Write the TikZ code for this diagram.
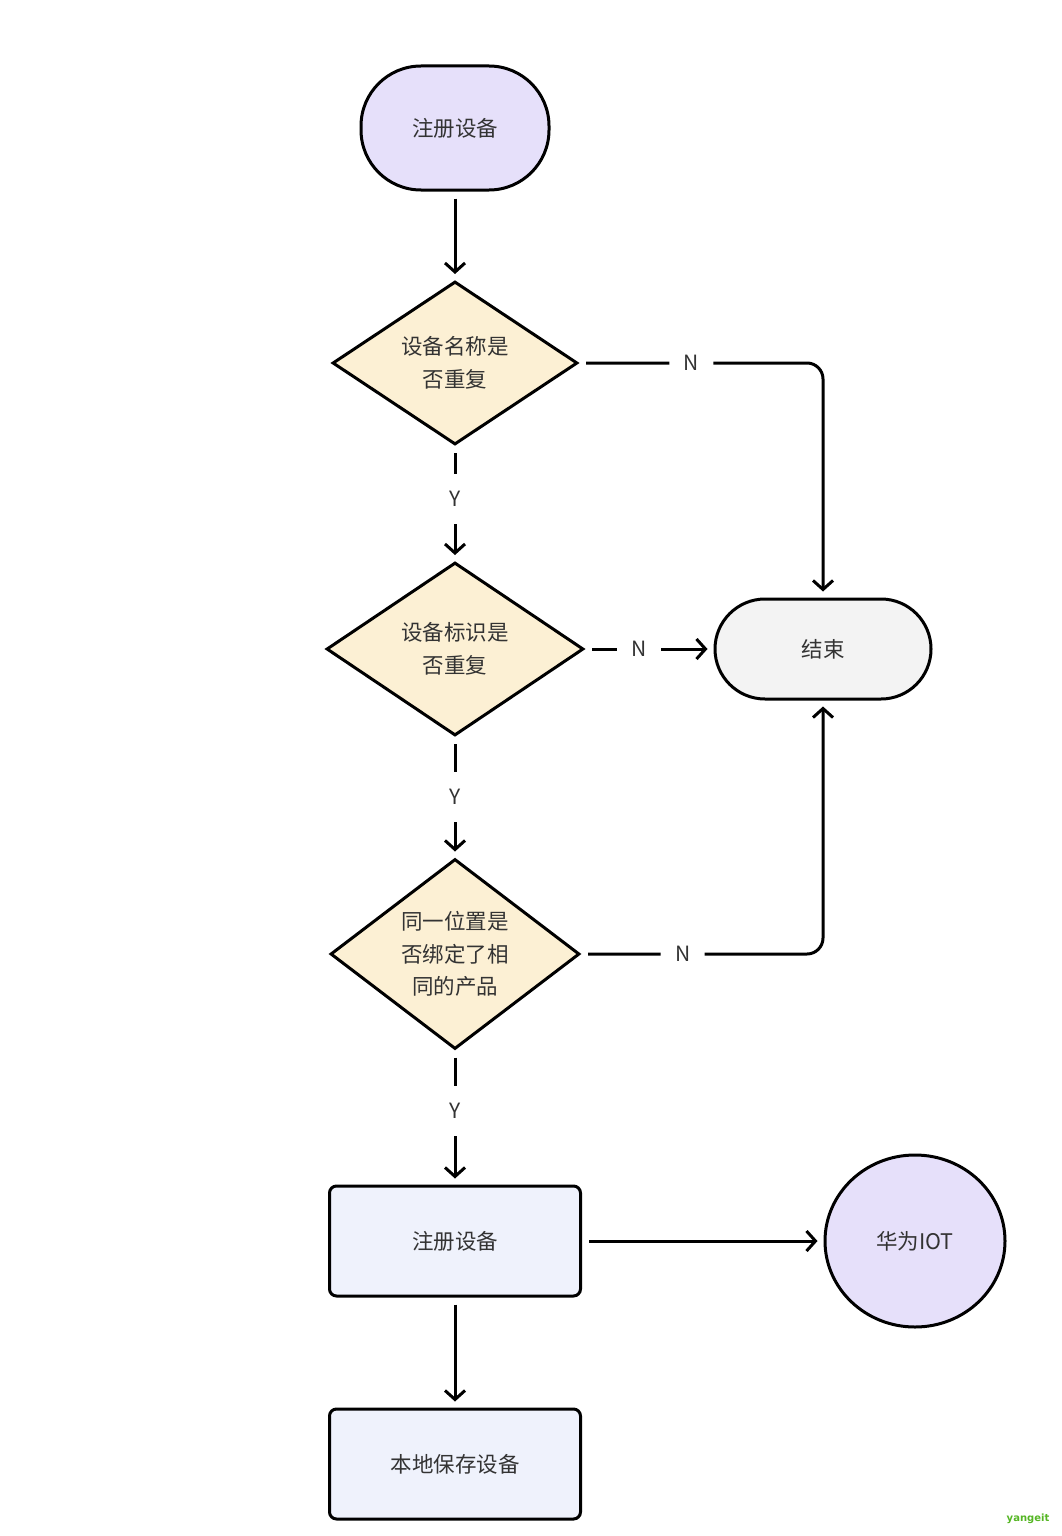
\documentclass[tikz,border=0pt]{standalone}
\usepackage{fontspec}
\setmainfont{Noto Sans CJK SC}
\newfontfamily\wmfont{DejaVu Sans}
\usetikzlibrary{shapes.geometric,shapes.misc,arrows.meta}
\definecolor{txt}{HTML}{333333}
\definecolor{lav}{HTML}{E6E0FA}
\definecolor{cream}{HTML}{FCF0D4}
\definecolor{endgray}{HTML}{F3F3F3}
\definecolor{boxblue}{HTML}{EFF2FC}
\definecolor{wmgreen}{HTML}{55B624}
\begin{document}
\begin{tikzpicture}[x=1pt,y=-1pt,
  base/.style={draw=black, line width=3pt, text=txt, font=\fontsize{21.5}{32.5}\selectfont, align=center, inner sep=0pt},
  startbox/.style={base, rectangle, rounded corners=60pt, fill=lav, minimum width=188pt, minimum height=124pt},
  endbox/.style={base, rounded rectangle, fill=endgray, minimum width=216pt, minimum height=100pt},
  decision/.style={base, diamond, aspect=1.5, fill=cream},
  procbox/.style={base, rectangle, rounded corners=7pt, fill=boxblue, minimum width=251pt, minimum height=110pt},
  iotbox/.style={base, ellipse, fill=lav, minimum width=180pt, minimum height=172pt},
  arr/.style={line width=3pt, draw=black, -{Straight Barb[length=9pt,width=20pt]}, shorten <=7pt, shorten >=6pt},
  lbl/.style={fill=white, text=txt, font=\fontsize{21}{24}\selectfont, inner sep=0pt, minimum width=44pt, minimum height=50pt}
]
\fill[white] (0,0) rectangle (1061,1536);
\useasboundingbox (0,0) rectangle (1061,1536);

\node[startbox] (start) at (455,128) {注册设备};
\node[decision, minimum width=245pt, minimum height=163pt] (d1) at (455,363) {设备名称是\\否重复};
\node[decision, minimum width=257pt, minimum height=173pt] (d2) at (455,649) {设备标识是\\否重复};
\node[endbox] (e) at (823,649) {结束};
\node[decision, minimum width=249pt, minimum height=190pt] (d3) at (455,954) {同一位置是\\否绑定了相\\同的产品};
\node[procbox] (r1) at (455,1241) {注册设备};
\node[iotbox] (iot) at (915,1241) {华为IOT};
\node[procbox] (r2) at (455,1464) {本地保存设备};
\node[text=wmgreen, font=\wmfont\bfseries\fontsize{10}{12}\selectfont] (wm) at (1028,1519) {yangeit};

\draw[arr] (start.south) -- (d1.north);
\draw[arr] (d1.south) -- node[lbl, pos=0.46]{Y} (d2.north);
\draw[arr, rounded corners=16pt] (d1.east) -- node[lbl, pos=0.46]{N} (d1.east -| e.north) -- (e.north);
\draw[arr] (d2.east) -- node[lbl, pos=0.42]{N} (e.west);
\draw[arr] (d2.south) -- node[lbl, pos=0.5]{Y} (d3.north);
\draw[arr, rounded corners=16pt] (d3.east) -- node[lbl, pos=0.42]{N} (d3.east -| e.south) -- (e.south);
\draw[arr] (d3.south) -- node[lbl, pos=0.45]{Y} (r1.north);
\draw[arr] (r1.east) -- (iot.west);
\draw[arr] (r1.south) -- (r2.north);
\end{tikzpicture}
\end{document}
